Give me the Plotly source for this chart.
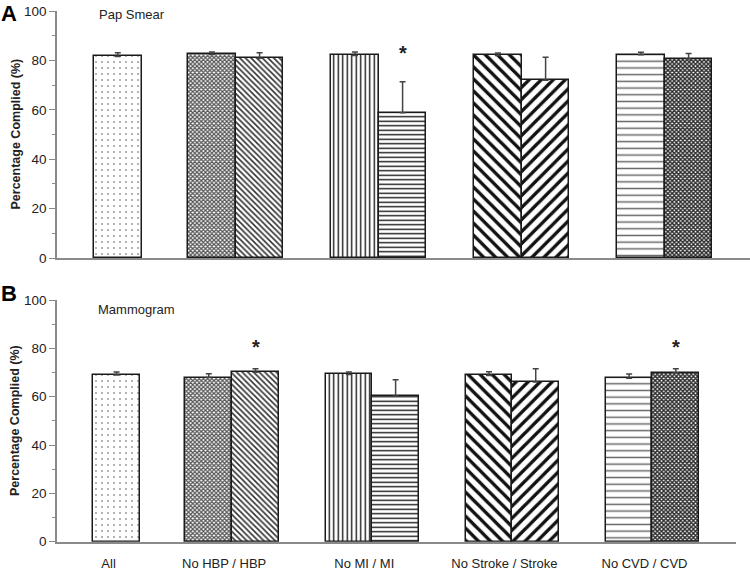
import plotly.graph_objects as go

# ---------------- data ----------------
categories = ["All", "No HBP / HBP", "No MI / MI", "No Stroke / Stroke", "No CVD / CVD"]
bar_names = ["All", "No HBP", "HBP", "No MI", "MI", "No Stroke", "Stroke", "No CVD", "CVD"]
bar_group = [0, 1, 1, 2, 2, 3, 3, 4, 4]
bar_side = [0, -1, 1, -1, 1, -1, 1, -1, 1]

pap_values = [81.6, 82.4, 80.9, 82.0, 58.8, 82.0, 72.0, 82.3, 80.6]
pap_err = [1.5, 1.0, 2.2, 1.4, 12.6, 1.0, 9.3, 1.0, 2.2]
pap_sig = [0, 0, 0, 0, 1, 0, 0, 0, 0]

mam_values = [69.0, 67.9, 70.1, 69.2, 60.2, 68.8, 66.1, 67.6, 69.9]
mam_err = [1.2, 1.6, 1.5, 1.0, 6.8, 1.5, 5.5, 1.8, 1.7]
mam_sig = [0, 0, 1, 0, 0, 0, 0, 0, 1]

y_ticks = [0, 20, 40, 60, 80, 100]

# ---------------- layout constants ----------------
W, H = 750, 573
ML = 57
PW = W - ML
group_x = [0.425, 1.25, 2.25, 3.25, 4.25]
bar_w = 1 / 3
x_range = [0, 4.846]
FONT = "Liberation Sans, Arial, sans-serif"
AXIS_COL = "#8a8a8a"
TEXT_COL = "#222222"

pat_shape = [".", "x", "\\", "|", "-", "\\", "/", "-", "x"]
pat_size = [6, 3, 4, 4.5, 4.5, 8.5, 8.5, 6.7, 3]
pat_solid = [0.05, 0.65, 0.4, 0.3, 0.3, 0.4, 0.4, 0.22, 0.7]
pat_fg = ["#444", "#555", "#333", "#111", "#111", "#111", "#111", "#666", "#2a2a2a"]

bar_x = [group_x[g] + s * bar_w / 2 for g, s in zip(bar_group, bar_side)]


def px_x(x):
    return (x - ML) / PW


def px_y(y):
    return (H - y) / H


fig = go.Figure()


def add_panel(values, errs, xa, ya):
    fig.add_trace(go.Bar(
        x=bar_x, y=values, width=bar_w, xaxis=xa, yaxis=ya,
        name="", showlegend=False,
        marker=dict(
            color="white",
            line=dict(color="#1a1a1a", width=1.5),
            pattern=dict(shape=pat_shape, size=pat_size, solidity=pat_solid,
                         fgcolor=pat_fg, bgcolor="white", fgopacity=1, fillmode="replace"),
        ),
        error_y=dict(type="data", array=errs, arrayminus=[0] * len(errs),
                     symmetric=False, color="#444", thickness=1.5, width=3),
        hovertext=bar_names,
    ))


add_panel(pap_values, pap_err, "x", "y")
add_panel(mam_values, mam_err, "x2", "y2")

annotations = []
for i, s in enumerate(pap_sig):
    if s:
        annotations.append(dict(x=bar_x[i], y=pap_values[i] + pap_err[i], xref="x", yref="y",
                                text="<b>*</b>", showarrow=False, yshift=29,
                                font=dict(size=20, color=TEXT_COL, family=FONT)))
for i, s in enumerate(mam_sig):
    if s:
        annotations.append(dict(x=bar_x[i], y=mam_values[i] + mam_err[i], xref="x2", yref="y2",
                                text="<b>*</b>", showarrow=False, yshift=22,
                                font=dict(size=20, color=TEXT_COL, family=FONT)))

annotations += [
    dict(x=px_x(97), y=px_y(15), xref="paper", yref="paper", text="Pap Smear",
         showarrow=False, xanchor="left", yanchor="middle",
         font=dict(size=13, color=TEXT_COL, family=FONT)),
    dict(x=px_x(96), y=px_y(310), xref="paper", yref="paper", text="Mammogram",
         showarrow=False, xanchor="left", yanchor="middle",
         font=dict(size=13, color=TEXT_COL, family=FONT)),
    dict(x=px_x(-1), y=px_y(13), xref="paper", yref="paper", text="<b>A</b>",
         showarrow=False, xanchor="left", yanchor="middle",
         font=dict(size=22, color="black", family=FONT)),
    dict(x=px_x(-1), y=px_y(293), xref="paper", yref="paper", text="<b>B</b>",
         showarrow=False, xanchor="left", yanchor="middle",
         font=dict(size=22, color="black", family=FONT)),
]
for yc in [134.5, 421]:
    annotations.append(dict(x=px_x(15), y=px_y(yc), xref="paper", yref="paper",
                            text="<b>Percentage Complied (%)</b>", showarrow=False, textangle=-90,
                            xanchor="center", yanchor="middle",
                            font=dict(size=12.5, color=TEXT_COL, family=FONT)))

yaxis_common = dict(
    range=[0, 100], tickvals=y_ticks, ticks="outside", ticklen=6, tickcolor=AXIS_COL,
    tickwidth=1.2, showline=True, linecolor=AXIS_COL, linewidth=1.5, showgrid=False,
    zeroline=False, tickfont=dict(size=13.5, color=TEXT_COL, family=FONT),
    minor=dict(ticks="outside", ticklen=3, dtick=10, tickcolor=AXIS_COL, showgrid=False),
    automargin=False,
)

fig.update_layout(
    width=W, height=H, autosize=False,
    margin=dict(l=ML, r=0, t=0, b=0, pad=0),
    paper_bgcolor="white", plot_bgcolor="white",
    showlegend=False,
    bargap=0,
    xaxis=dict(domain=[0, 1], range=x_range, showline=True, linecolor=AXIS_COL, linewidth=1.5,
               showticklabels=False, ticks="", showgrid=False, zeroline=False, anchor="y",
               automargin=False),
    yaxis=dict(domain=[px_y(258), px_y(11)], anchor="x", **yaxis_common),
    xaxis2=dict(domain=[0, px_x(736)], range=x_range, showline=True, linecolor=AXIS_COL,
                linewidth=1.5, tickvals=group_x, ticktext=categories, ticks="",
                ticklabelstandoff=9, ticklabelshift=-8,
                tickfont=dict(size=13, color=TEXT_COL, family=FONT),
                showgrid=False, zeroline=False, anchor="y2", automargin=False),
    yaxis2=dict(domain=[px_y(541.7), px_y(300)], anchor="x2", **yaxis_common),
    annotations=annotations,
)

fig.write_html(
    "out.html",
    config={"responsive": False, "displayModeBar": False},
    post_script="document.body.style.margin='0';document.body.style.padding='0';"
                "document.body.style.overflow='hidden';",
)
